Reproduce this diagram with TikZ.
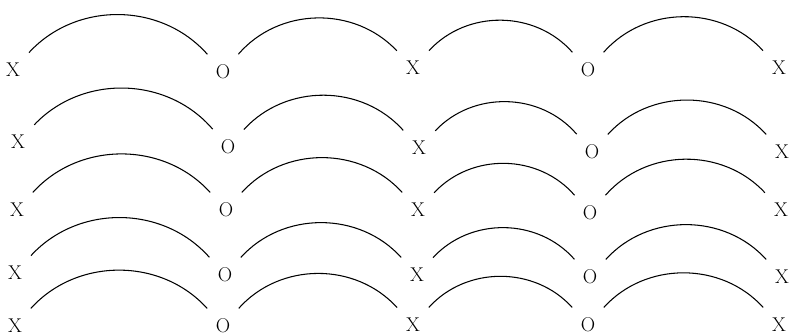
\documentclass[tikz,border=0pt]{standalone}
\tikzset{
  sym/.style={
    circle,
    inner sep=0pt,
    minimum size=14mm,
    font=\fontsize{17}{17}\selectfont
  },
  hump/.style={line width=0.9pt, bend left=48}
}

\begin{document}
\begin{tikzpicture}[x=0.3mm, y=-0.3mm]
  \useasboundingbox (0,0) rectangle (790,336);

  % row 1
  \node[sym] (x11) at (13,70)  {X};
  \node[sym] (o12) at (223,72) {O};
  \node[sym] (x13) at (413,68) {X};
  \node[sym] (o14) at (588,70) {O};
  \node[sym] (x15) at (779,68) {X};
  % row 2
  \node[sym] (x21) at (18,142)  {X};
  \node[sym] (o22) at (228,147) {O};
  \node[sym] (x23) at (419,148) {X};
  \node[sym] (o24) at (592,152) {O};
  \node[sym] (x25) at (782,152) {X};
  % row 3
  \node[sym] (x31) at (17,210)  {X};
  \node[sym] (o32) at (226,210) {O};
  \node[sym] (x33) at (418,210) {X};
  \node[sym] (o34) at (590,213) {O};
  \node[sym] (x35) at (781,210) {X};
  % row 4
  \node[sym] (x41) at (15,273)  {X};
  \node[sym] (o42) at (225,275) {O};
  \node[sym] (x43) at (417,275) {X};
  \node[sym] (o44) at (590,277) {O};
  \node[sym] (x45) at (782,277) {X};
  % row 5
  \node[sym] (x51) at (15,326)  {X};
  \node[sym] (o52) at (223,326) {O};
  \node[sym] (x53) at (413,325) {X};
  \node[sym] (o54) at (588,325) {O};
  \node[sym] (x55) at (779,325) {X};

  \draw[hump] (x11) to (o12);
  \draw[hump] (o12) to (x13);
  \draw[hump] (x13) to (o14);
  \draw[hump] (o14) to (x15);

  \draw[hump] (x21) to (o22);
  \draw[hump] (o22) to (x23);
  \draw[hump] (x23) to (o24);
  \draw[hump] (o24) to (x25);

  \draw[hump] (x31) to (o32);
  \draw[hump] (o32) to (x33);
  \draw[hump] (x33) to (o34);
  \draw[hump] (o34) to (x35);

  \draw[hump] (x41) to (o42);
  \draw[hump] (o42) to (x43);
  \draw[hump] (x43) to (o44);
  \draw[hump] (o44) to (x45);

  \draw[hump] (x51) to (o52);
  \draw[hump] (o52) to (x53);
  \draw[hump] (x53) to (o54);
  \draw[hump] (o54) to (x55);
\end{tikzpicture}
\end{document}
